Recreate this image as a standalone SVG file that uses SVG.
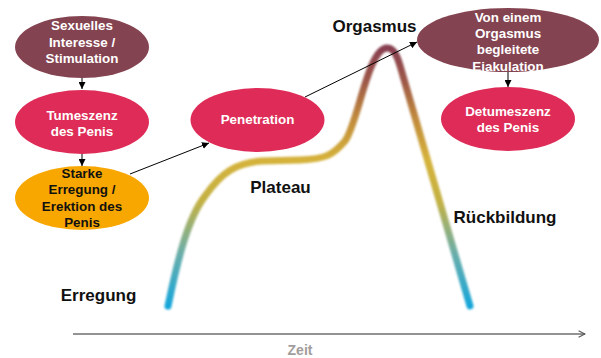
<svg xmlns="http://www.w3.org/2000/svg" width="601" height="358" viewBox="0 0 601 358">
<style>
.maroon{fill:#844350}
.crimson{fill:#de2b57}
.orange{fill:#f8a700}
.lbl{font-family:"Liberation Sans",Arial,sans-serif;font-weight:bold;text-anchor:middle}
.nt{font-size:13.4px;fill:#ffffff}
.nt.dark{fill:#111111}
.big{font-size:17px;fill:#111111}
.conn{stroke:#000;stroke-width:1;fill:none}
</style>
<defs>
<marker id="ah" viewBox="0 0 10 10" refX="10" refY="5" markerWidth="7" markerHeight="7" markerUnits="userSpaceOnUse" orient="auto">
<path d="M0,0 L10,5 L0,10 z" fill="#000"/>
</marker>
<marker id="open" viewBox="0 0 10 10" refX="9" refY="5" markerWidth="8" markerHeight="8" markerUnits="userSpaceOnUse" orient="auto">
<path d="M1,1 L9,5 L1,9" fill="none" stroke="#555" stroke-width="1.3"/>
</marker>
<linearGradient id="cg" gradientUnits="userSpaceOnUse" x1="0" y1="306" x2="0" y2="45">
<stop offset="0" stop-color="#17a6da"/>
<stop offset="0.2" stop-color="#6aaeaa"/>
<stop offset="0.4" stop-color="#c3b144"/>
<stop offset="0.56" stop-color="#d5b23a"/>
<stop offset="0.72" stop-color="#c08a3c"/>
<stop offset="0.86" stop-color="#9e5848"/>
<stop offset="1" stop-color="#863e52"/>
</linearGradient>
<filter id="soft" x="-10%" y="-10%" width="120%" height="120%">
<feGaussianBlur stdDeviation="0.9"/>
</filter>
</defs>

<g id="curve">
<path d="M168,306 C178,258 188,218 205,196 C222,172 236,163 262,161 L300,160 C326,159 333,155 345,141 C358,124 368,48 387,48 C396,48 399,62 403,76 L470,306" fill="none" stroke="url(#cg)" stroke-width="7" stroke-linecap="round" stroke-linejoin="round" filter="url(#soft)"/>
</g>

<g id="axis">
<line x1="73" y1="334" x2="585" y2="334" stroke="#6f6f6f" stroke-width="1.6" marker-end="url(#open)"/>
<text class="lbl" x="300" y="355" style="font-size:14px;fill:#a39c9c">Zeit</text>
</g>

<g id="labels">
<text class="lbl big" x="374.5" y="32">Orgasmus</text>
<text class="lbl big" x="280.5" y="193">Plateau</text>
<text class="lbl big" x="505" y="223">Rückbildung</text>
<text class="lbl big" x="98.5" y="301">Erregung</text>
</g>

<g id="connectors">
<line class="conn" x1="82" y1="78" x2="82" y2="89" marker-end="url(#ah)"/>
<line class="conn" x1="82" y1="154" x2="82" y2="166" marker-end="url(#ah)"/>
<line class="conn" x1="130" y1="174" x2="209" y2="143" marker-end="url(#ah)"/>
<line class="conn" x1="305" y1="97" x2="417" y2="42" marker-end="url(#ah)"/>
<line class="conn" x1="508" y1="72" x2="508" y2="87" marker-end="url(#ah)"/>
</g>

<g id="n-interesse">
<ellipse class="maroon" cx="82" cy="47" rx="67" ry="31"/>
<text class="lbl nt" x="82" y="30">Sexuelles</text>
<text class="lbl nt" x="82" y="46.5">Interesse /</text>
<text class="lbl nt" x="82" y="63">Stimulation</text>
</g>

<g id="n-tumeszenz">
<ellipse class="crimson" cx="82" cy="122" rx="67" ry="32"/>
<text class="lbl nt" x="82" y="119.5">Tumeszenz</text>
<text class="lbl nt" x="82" y="135.5">des Penis</text>
</g>

<g id="n-erektion">
<ellipse class="orange" cx="82" cy="198" rx="67" ry="32"/>
<text class="lbl nt dark" x="82" y="178">Starke</text>
<text class="lbl nt dark" x="82" y="194">Erregung /</text>
<text class="lbl nt dark" x="82" y="210.5">Erektion des</text>
<text class="lbl nt dark" x="82" y="226.5">Penis</text>
</g>

<g id="n-penetration">
<ellipse class="crimson" cx="257.5" cy="120" rx="67" ry="32"/>
<text class="lbl nt" x="257.5" y="124">Penetration</text>
</g>

<g id="n-ejakulation">
<ellipse class="maroon" cx="508" cy="40" rx="91" ry="32"/>
<text class="lbl nt" x="508" y="22">Von einem</text>
<text class="lbl nt" x="508" y="38">Orgasmus</text>
<text class="lbl nt" x="508" y="54">begleitete</text>
<text class="lbl nt" x="508" y="70.5">Ejakulation</text>
</g>

<g id="n-detumeszenz">
<ellipse class="crimson" cx="508" cy="119" rx="67" ry="32"/>
<text class="lbl nt" x="508" y="116">Detumeszenz</text>
<text class="lbl nt" x="508" y="132">des Penis</text>
</g>
</svg>
